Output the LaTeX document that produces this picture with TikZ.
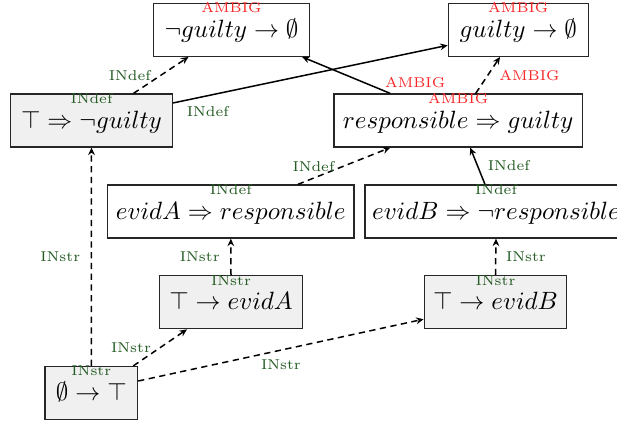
\documentclass[tikz,border=0pt]{standalone}
\usetikzlibrary{arrows.meta,calc}
\definecolor{tagGreen}{RGB}{36,92,36}
\definecolor{tagRed}{RGB}{250,40,40}
\definecolor{boxGray}{RGB}{240,240,240}
\tikzset{
  stmt/.style={draw=black!85, line width=0.5pt, inner xsep=1pt, inner ysep=0pt,
    text height=13.6pt, text depth=7.6pt, font=\normalsize},
  given/.style={stmt, fill=boxGray},
  tagtext/.style={font=\fontsize{5.7}{6.5}\selectfont, inner sep=0.8pt},
  tagdef/.style={tagtext, text=tagGreen},
  tagamb/.style={tagtext, text=tagRed},
  link/.style={line width=0.6pt, -{Stealth[length=3pt,width=2.7pt,inset=1pt]}},
  dlink/.style={link, dash pattern=on 2.5pt off 1.8pt},
}
\begin{document}
\begin{tikzpicture}[x=0.4pt,y=-0.4pt]
\clip (0,0) rectangle (617,421);
\fill[white] (0,0) rectangle (617,421);
% statement boxes
\node[stmt, minimum width=62.4pt] (A) at (231.5,29.8) {$\neg guilty\rightarrow\emptyset$};
\node[stmt, minimum width=56pt] (B) at (518.3,29.8) {$guilty\rightarrow\emptyset$};
\node[given, minimum width=64.6pt] (C) at (91.5,120.5) {$\top\Rightarrow\neg guilty$};
\node[stmt, minimum width=99.3pt] (D) at (458.2,120.5) {$responsible\Rightarrow guilty$};
\node[stmt, minimum width=98.5pt] (E) at (230.8,211.5) {$evidA\Rightarrow responsible$};
\node[stmt, minimum width=104.8pt] (F) at (496,211.5) {$evidB\Rightarrow\neg responsible$};
\node[given, minimum width=57.3pt] (G) at (231,302.2) {$\top\rightarrow evidA$};
\node[given, minimum width=57pt] (H) at (495.5,302.2) {$\top\rightarrow evidB$};
\node[given, minimum width=37pt] (I) at (91.3,393) {$\emptyset\rightarrow\top$};
% tags inside the boxes
\node[tagamb, anchor=base] (Atag) at ($(A.north)+(0,10)$) {AMBIG};
\node[tagamb, anchor=base] (Btag) at ($(B.north)+(0,10)$) {AMBIG};
\node[tagdef, anchor=base] (Ctag) at ($(C.north)+(0,10)$) {INdef};
\node[tagamb, anchor=base] (Dtag) at ($(D.north)+(0,10)$) {AMBIG};
\node[tagdef, anchor=base] (Etag) at ($(E.north)+(0,10)$) {INdef};
\node[tagdef, anchor=base] (Ftag) at ($(F.north)+(0,10)$) {INdef};
\node[tagdef, anchor=base] (Gtag) at ($(G.north)+(0,10)$) {INstr};
\node[tagdef, anchor=base] (Htag) at ($(H.north)+(0,10)$) {INstr};
\node[tagdef, anchor=base] (Itag) at ($(I.north)+(0,10)$) {INstr};
% connectors
\draw[dlink] (I.north) -- (C.south)
  node[tagdef, midway, left=3.4pt] (e1) {INstr};
\draw[dlink] ($(I.north)+(42,0)$) -- ($(G.south)+(-44,0)$)
  node[tagdef, midway, left=2.6pt] (e2) {INstr};
\draw[dlink] ($(I.east)+(0,-12)$) -- ($(H.west)+(0,17)$)
  node[tagdef, midway, below=2.6pt] (e3) {INstr};
\draw[dlink] (G.north) -- (E.south)
  node[tagdef, midway, left=3.4pt] (e4) {INstr};
\draw[dlink] (H.north) -- (F.south)
  node[tagdef, midway, right=3pt] (e5) {INstr};
\draw[dlink] ($(E.north)+(67,0)$) -- ($(D.south)+(-68,0)$)
  node[tagdef, pos=0.17, above=1.4pt] (e6) {INdef};
\draw[link] ($(F.north)+(-11,0)$) -- ($(D.south)+(12,0)$)
  node[tagdef, midway, right=3pt] (e7) {INdef};
\draw[dlink] ($(C.north)+(42,0)$) -- ($(A.south)+(-43,0)$)
  node[tagdef, midway, left=3pt] (e8) {INdef};
\draw[link] ($(C.east)+(0,-17.5)$) -- ($(B.west)+(0,15.5)$)
  node[tagdef, pos=0.127, below=3.2pt] (e9) {INdef};
\draw[link] ($(D.north)+(-68,0)$) -- ($(A.south east)+(-8,0)$)
  node[tagamb, pos=0.09, anchor=south west] (e10) {AMBIG};
\draw[dlink] ($(D.north)+(17.5,0)$) -- ($(B.south)+(-18.3,0)$)
  node[tagamb, midway, right=3.5pt] (e11) {AMBIG};
\end{tikzpicture}
\end{document}
